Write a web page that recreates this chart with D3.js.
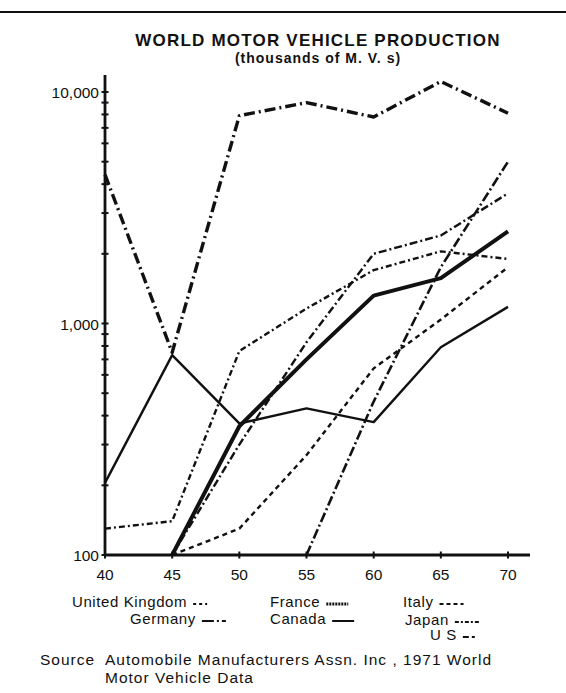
<!DOCTYPE html>
<html>
<head>
<meta charset="utf-8">
<script src="https://cdn.jsdelivr.net/npm/d3@7"></script>
<style>
  body { margin: 0; background: #fff; }
  text { font-family: "Liberation Sans", Arial, sans-serif; fill: #111; }
</style>
</head>
<body>
<div id="chart"></div>
<script>
// years and production (thousands of M.V.s)
let years = [40, 45, 50, 55, 60, 65, 70];
let usValues      = [4400, 750, 7900, 9000, 7800, 11100, 8100];
let canadaValues  = [205, 730, 370, 430, 375, 790, 1180];
let ukValues      = [130, 140, 760, 1160, 1700, 2050, 1900];
let franceValues  = [null, 100, 360, 700, 1320, 1570, 2500];
let germanyValues = [null, 100, 300, 830, 2000, 2400, 3650];
let italyValues   = [null, 100, 130, 270, 640, 1040, 1750];
let japanValues   = [null, null, null, 100, 460, 1750, 5000];
let yTickValues = [100, 1000, 10000];
let yTickLabels = ["100", "1,000", "10,000"];

let series = [
    {name: "US", values: usValues, width: 3.4, dash: "11,4,2,4"},
    {name: "Canada", values: canadaValues, width: 2.4, dash: null},
    {name: "United Kingdom", values: ukValues, width: 2.4, dash: "6,3,2,3"},
    {name: "France", values: franceValues, width: 4, dash: null},
    {name: "Germany", values: germanyValues, width: 2.4, dash: "8,3,2,3"},
    {name: "Italy", values: italyValues, width: 2.4, dash: "5,4"},
    {name: "Japan", values: japanValues, width: 2.6, dash: "10,3,2,3"}
];

let width = 566, height = 693;

let svg = d3.select("#chart").append("svg")
    .attr("width", width)
    .attr("height", height);

// top rule
svg.append("line")
    .attr("x1", 0).attr("x2", width)
    .attr("y1", 12).attr("y2", 12)
    .attr("stroke", "#111").attr("stroke-width", 2);

svg.append("text")
    .attr("x", 318).attr("y", 46)
    .attr("text-anchor", "middle")
    .style("font-size", "17px").style("font-weight", "bold")
    .style("letter-spacing", "1.2px")
    .text("WORLD MOTOR VEHICLE PRODUCTION");
svg.append("text")
    .attr("x", 318).attr("y", 63)
    .attr("text-anchor", "middle")
    .style("font-size", "14px").style("font-weight", "bold")
    .style("letter-spacing", "1px")
    .text("(thousands of M. V. s)");

let x = d3.scaleLinear().domain([40, 70]).range([105, 508]);
let y = d3.scaleLog().domain([100, 10000]).range([555, 92]);

// y axis
let minor = [];
[100, 1000].forEach(d => { for (let k = 2; k <= 9; k++) minor.push(d * k); });

let yAxis = svg.append("g").attr("transform", "translate(105,0)");
yAxis.append("line")
    .attr("y1", 75).attr("y2", 556)
    .attr("stroke", "#111").attr("stroke-width", 2.8);
yAxis.selectAll(".minor")
    .data(minor.concat(yTickValues))
    .join("line")
    .attr("class", "minor")
    .attr("x1", -3.5).attr("x2", 3.5)
    .attr("y1", d => y(d)).attr("y2", d => y(d))
    .attr("stroke", "#111").attr("stroke-width", 2);
yAxis.selectAll(".lab")
    .data(yTickValues)
    .join("text")
    .attr("class", "lab")
    .attr("x", -6)
    .attr("y", d => y(d) + 6)
    .attr("text-anchor", "end")
    .style("font-size", "15.5px")
    .text((d, i) => yTickLabels[i]);

// x axis
let xAxis = svg.append("g").attr("transform", "translate(0,555)");
xAxis.append("line")
    .attr("x1", 104).attr("x2", 530)
    .attr("stroke", "#111").attr("stroke-width", 2.8);
xAxis.selectAll(".tk")
    .data(years)
    .join("line")
    .attr("class", "tk")
    .attr("x1", d => x(d)).attr("x2", d => x(d))
    .attr("y1", -3.5).attr("y2", 3.5)
    .attr("stroke", "#111").attr("stroke-width", 2);
xAxis.selectAll(".lab")
    .data(years)
    .join("text")
    .attr("class", "lab")
    .attr("x", d => x(d))
    .attr("y", 25)
    .attr("text-anchor", "middle")
    .style("font-size", "15.5px")
    .text(d => d);

// lines
let line = d3.line()
    .defined(d => d[1] != null)
    .x(d => x(d[0]))
    .y(d => y(d[1]));

svg.selectAll(".series")
    .data(series)
    .join("path")
    .attr("class", "series")
    .attr("d", s => line(years.map((yr, i) => [yr, s.values[i]])))
    .attr("fill", "none")
    .attr("stroke", "#111")
    .attr("stroke-width", s => s.width)
    .attr("stroke-dasharray", s => s.dash)
    .attr("stroke-linejoin", "round");

// legend
let legend = [
    {label: "United Kingdom", x: 72, y: 607, dash: "3,3", w: 2, len: 14},
    {label: "France", x: 270, y: 607, dash: "2,1", w: 3, len: 22},
    {label: "Italy", x: 403, y: 607, dash: "4,3", w: 2, len: 24},
    {label: "Germany", x: 130, y: 624, dash: "12,3,2,3", w: 2, len: 24},
    {label: "Canada", x: 270, y: 624, dash: null, w: 2, len: 22},
    {label: "Japan", x: 405, y: 625, dash: "4,2,2,2", w: 2, len: 24},
    {label: "U S", x: 430, y: 640, dash: "6,3", w: 2.2, len: 12}
];
let lg = svg.selectAll(".leg").data(legend).join("g").attr("class", "leg");
lg.append("text")
    .attr("x", d => d.x).attr("y", d => d.y)
    .style("font-size", "15px")
    .style("letter-spacing", "0.6px")
    .text(d => d.label);
lg.each(function(d) {
    let tw = this.querySelector("text").getComputedTextLength();
    d3.select(this).append("line")
        .attr("x1", d.x + tw + 6).attr("x2", d.x + tw + 6 + d.len)
        .attr("y1", d.y - 3).attr("y2", d.y - 3)
        .attr("stroke", "#111").attr("stroke-width", d.w)
        .attr("stroke-dasharray", d.dash);
});

let src = svg.append("g").style("font-size", "15.5px").style("letter-spacing", "1px");
src.append("text").attr("x", 40).attr("y", 665).text("Source");
src.append("text").attr("x", 105).attr("y", 665)
    .text("Automobile Manufacturers Assn. Inc , 1971 World");
src.append("text").attr("x", 105).attr("y", 683).text("Motor Vehicle Data");
</script>
</body>
</html>
